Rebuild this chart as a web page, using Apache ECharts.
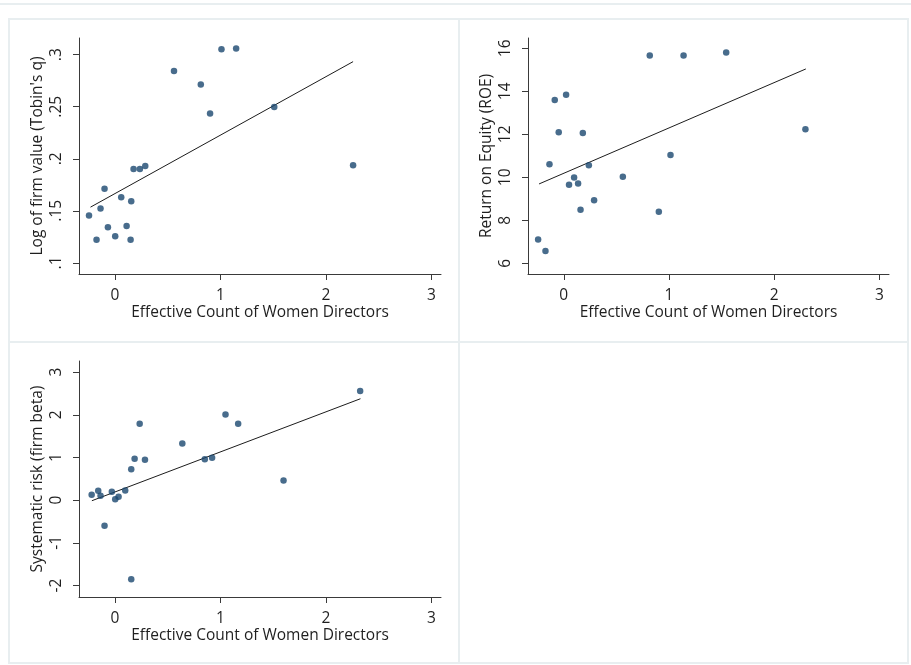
<!DOCTYPE html>
<html>
<head>
<meta charset="utf-8">
<script src="https://cdn.jsdelivr.net/npm/echarts@6/dist/echarts.min.js"></script>
<style>
  html, body { margin: 0; padding: 0; background: #ffffff; }
  #chart { width: 911px; height: 665px; }
</style>
</head>
<body>
<div id="chart"></div>
<script>
// Effective count of women directors (x) for each firm group
const tobinX = [-0.245, -0.174, -0.136, -0.098, -0.066, 0.003, 0.060, 0.111, 0.149, 0.155,
                0.177, 0.237, 0.288, 0.560, 0.814, 0.902, 1.010, 1.149, 1.510, 2.257];
// Log of firm value (Tobin's q)
const tobinY = [0.1455, 0.1224, 0.1522, 0.1712, 0.1343, 0.1257, 0.1632, 0.1356, 0.1224, 0.1593,
                0.1901, 0.1901, 0.1930, 0.2843, 0.2714, 0.2436, 0.3051, 0.3060, 0.2497, 0.1939];

const roeX = [-0.244, -0.174, -0.136, -0.086, -0.048, 0.022, 0.050, 0.098, 0.136, 0.159,
              0.181, 0.238, 0.288, 0.561, 0.817, 0.903, 1.014, 1.138, 1.543, 2.296];
// Return on equity (ROE)
const roeY = [7.11, 6.57, 10.61, 13.59, 12.10, 13.84, 9.65, 9.99, 9.71, 8.49,
              12.06, 10.56, 8.93, 10.03, 15.66, 8.40, 11.04, 15.66, 15.81, 12.24];

const betaX = [-0.220, -0.158, -0.136, -0.098, -0.029, 0.003, 0.035, 0.098, 0.155, 0.155,
               0.187, 0.235, 0.285, 0.639, 0.852, 0.921, 1.048, 1.168, 1.598, 2.324];
// Systematic risk (firm beta)
const betaY = [0.126, 0.220, 0.103, -0.603, 0.196, 0.023, 0.079, 0.227, 0.724, -1.853,
               0.968, 1.792, 0.946, 1.327, 0.960, 0.994, 2.005, 1.787, 0.461, 2.556];

// Linear fit endpoints [x, y]
const tobinFit = [[-0.231, 0.1536], [2.257, 0.2933]];
const roeFit = [[-0.235, 9.69], [2.300, 15.04]];
const betaFit = [[-0.218, -0.014], [2.327, 2.376]];

// Tick labels
const xTicks = [0, 1, 2, 3];
const tobinTicks = [0.1, 0.15, 0.2, 0.25, 0.3];
const roeTicks = [6, 8, 10, 12, 14, 16];
const betaTicks = [-2, -1, 0, 1, 2, 3];

const xTitle = 'Effective Count of Women Directors';
const yTitles = ["Log of firm value (Tobin's q)", 'Return on Equity (ROE)', 'Systematic risk (firm beta)'];

const FONT = '"Open Sans", "Noto Sans", sans-serif';
const FS = 15.5;
const TEXT = '#1f1f1f';
const AXIS = '#3a3a3a';
const DOT = '#1a476f';
const FITC = '#1c1c1c';
const FRAME = '#e8eef0';

const zip = (xs, ys) => xs.map((x, i) => [x, ys[i]]);

const grids = [
  { left: 79, top: 38, width: 362, height: 236 },
  { left: 528, top: 38, width: 361, height: 236 },
  { left: 79, top: 361, width: 362, height: 236 }
];

function xAxisFor(i) {
  return {
    type: 'value', gridIndex: i, min: -0.34, max: 3.09,
    name: xTitle, nameLocation: 'middle', nameGap: 28,
    nameTextStyle: { fontFamily: FONT, fontSize: FS, color: TEXT },
    axisLine: { show: true, onZero: false, lineStyle: { color: AXIS, width: 1 } },
    axisTick: { show: true, length: 6, customValues: xTicks, lineStyle: { color: AXIS } },
    axisLabel: { customValues: xTicks, margin: 14, fontFamily: FONT, fontSize: FS, color: TEXT },
    splitLine: { show: false }
  };
}

function yAxisFor(i, min, max, ticks, fmt) {
  return {
    type: 'value', gridIndex: i, min: min, max: max,
    name: yTitles[i], nameLocation: 'middle', nameGap: 33, nameRotate: 90,
    nameTextStyle: { fontFamily: FONT, fontSize: FS, color: TEXT },
    axisLine: { show: true, onZero: false, lineStyle: { color: AXIS, width: 1 } },
    axisTick: { show: true, length: 6, customValues: ticks, lineStyle: { color: AXIS } },
    axisLabel: { customValues: ticks, rotate: 90, margin: 14, fontFamily: FONT, fontSize: FS, color: TEXT,
                 formatter: fmt },
    splitLine: { show: false }
  };
}

const dropLeadingZero = v => String(v).replace(/^0\./, '.');

function scatter(i, xs, ys) {
  return {
    type: 'scatter', xAxisIndex: i, yAxisIndex: i, data: zip(xs, ys),
    symbol: 'circle', symbolSize: 6.5, itemStyle: { color: DOT }, silent: true, z: 3
  };
}

function fit(i, pts) {
  return {
    type: 'line', xAxisIndex: i, yAxisIndex: i, data: pts, symbol: 'none',
    lineStyle: { color: FITC, width: 1 }, silent: true, z: 2
  };
}

// Panel frames: 2x2 layout with a thin rule above
const frames = [
  { x: 9, y: 19, w: 450, h: 323 },
  { x: 459, y: 19, w: 449, h: 323 },
  { x: 9, y: 342, w: 450, h: 321 },
  { x: 459, y: 342, w: 449, h: 321 }
].map(f => ({
  type: 'rect', shape: { x: f.x, y: f.y, width: f.w, height: f.h },
  style: { fill: null, stroke: FRAME, lineWidth: 2 }, silent: true, z: -1
}));
frames.push({
  type: 'line', shape: { x1: 0, y1: 4, x2: 911, y2: 4 },
  style: { stroke: FRAME, lineWidth: 2 }, silent: true, z: -1
});

const chart = echarts.init(document.getElementById('chart'), null, { renderer: 'canvas' });
chart.setOption({
  animation: false,
  backgroundColor: '#ffffff',
  graphic: frames,
  grid: grids,
  xAxis: [xAxisFor(0), xAxisFor(1), xAxisFor(2)],
  yAxis: [
    yAxisFor(0, 0.0894, 0.316, tobinTicks, dropLeadingZero),
    yAxisFor(1, 5.50, 16.48, roeTicks, v => String(v)),
    yAxisFor(2, -2.27, 3.26, betaTicks, v => String(v))
  ],
  series: [
    fit(0, tobinFit), scatter(0, tobinX, tobinY),
    fit(1, roeFit), scatter(1, roeX, roeY),
    fit(2, betaFit), scatter(2, betaX, betaY)
  ]
});
</script>
</body>
</html>
